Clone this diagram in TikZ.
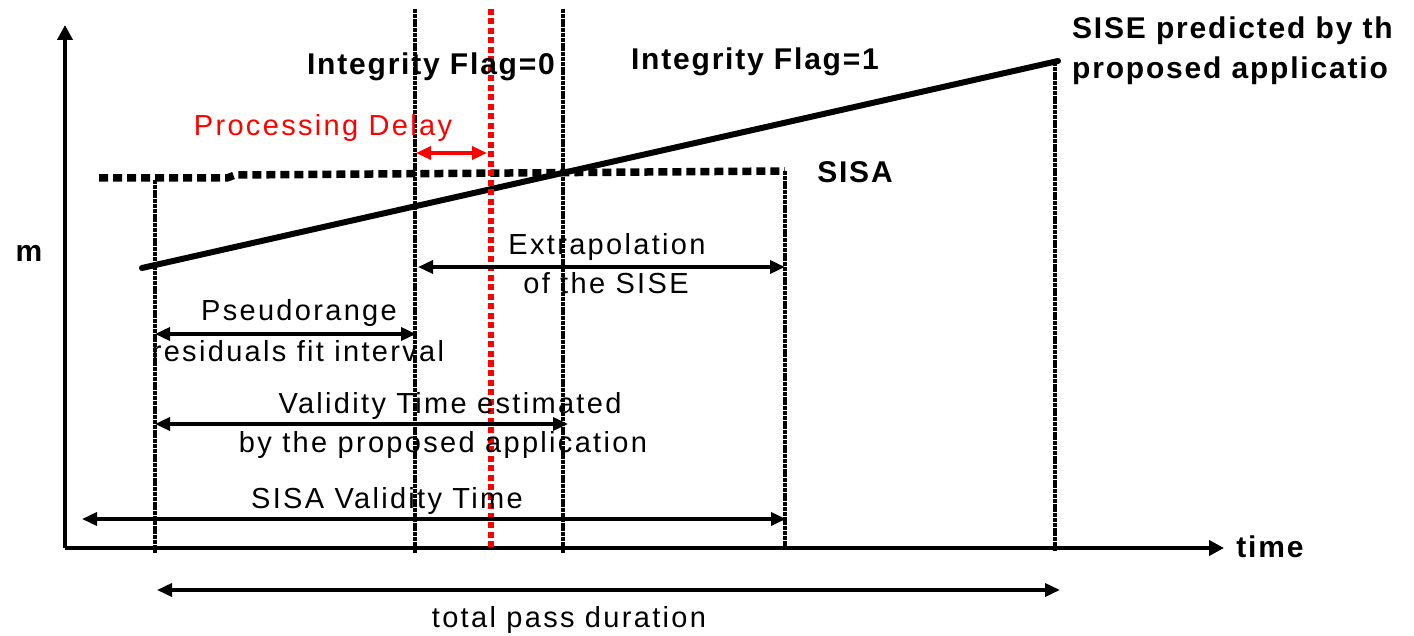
\documentclass[tikz,border=0pt]{standalone}
\usepackage{fontspec}
\setmainfont{Liberation Sans}[LetterSpace=8]
\newfontfamily\boldlab{Liberation Sans Bold}[LetterSpace=6]
\usetikzlibrary{arrows.meta}
\begin{document}
\begin{tikzpicture}[x=1pt,y=-1pt,
  lab/.style={font=\fontsize{29}{33}\selectfont, inner sep=0pt, anchor=base},
  blab/.style={font=\boldlab\fontsize{30}{34}\selectfont, inner sep=0pt, anchor=base},
  axis/.style={line width=4pt, -{Triangle[length=15pt,width=15pt]}},
  span/.style={line width=3.5pt, {Triangle[length=15pt,width=13pt]}-{Triangle[length=15pt,width=13pt]}},
  vline/.style={line width=3.2pt, dash pattern=on 4pt off 0.8pt},
  redline/.style={line width=6pt, red, dash pattern=on 6pt off 3.5pt},
  sisa/.style={line width=7.5pt, dash pattern=on 9pt off 5pt},
  sise/.style={line width=6pt, line cap=round}]
\useasboundingbox (0,0) rectangle (1414,636);
\fill[white] (0,0) rectangle (1414,636);

% axes
\coordinate (O) at (65,548);
\coordinate (ytip) at (65,25);
\coordinate (xtip) at (1224,548);
\draw[axis] (O) -- (ytip);
\draw[axis] (O) -- (xtip);
\node[blab] (m) at (29,262) {m};
\node[blab] (time) at (1270,557) {time};

% vertical lines
\coordinate (v1t) at (155,180); \coordinate (v1b) at (155,553);
\coordinate (v2t) at (415,9);   \coordinate (v2b) at (415,553);
\coordinate (v3t) at (563,9);   \coordinate (v3b) at (563,553);
\coordinate (v4t) at (785,171); \coordinate (v4b) at (785,547);
\coordinate (v5t) at (1055,62); \coordinate (v5b) at (1055,551);
\draw[vline] (v1t) -- (v1b);
\draw[vline] (v2t) -- (v2b);
\draw[vline] (v3t) -- (v3b);
\draw[vline] (v4t) -- (v4b);
\draw[vline] (v5t) -- (v5b);

% SISA dashed line
\coordinate (s0) at (99,178);
\coordinate (s1) at (227,178);
\coordinate (s2) at (235,175);
\coordinate (s3) at (785,171);
\draw[sisa] (s0) -- (s1) -- (s2) -- (s3);
\node[blab] (sisalab) at (855,183) {SISA};

% SISE line
\coordinate (e0) at (142,268);
\coordinate (e1) at (1058,61);
\draw[sise] (e0) -- (e1);

% red processing line
\coordinate (rt) at (491,9);
\coordinate (rb) at (491,548);
\draw[redline] (rt) -- (rb);

% labels top
\node[blab] (flag0) at (431,75) {Integrity Flag=0};
\node[blab] (flag1) at (755,70) {Integrity Flag=1};
\begin{scope}
\clip (0,0) rectangle (1390,636);
\node[blab, anchor=base west] (sisepred1) at (1072,39) {SISE predicted by the};
\node[blab, anchor=base west] (sisepred2) at (1072,79) {proposed application};
\end{scope}

% processing delay
\node[lab, text=red] (pdlab) at (323,136) {Processing Delay};
\coordinate (pd0) at (416,153);
\coordinate (pd1) at (487,153);
\draw[span, red] (pd0) -- (pd1);

% extrapolation
\coordinate (ex0) at (418,267);
\coordinate (ex1) at (785,267);
\draw[span] (ex0) -- (ex1);
\node[lab] (ex1lab) at (607,255) {Extrapolation};
\node[lab] (ex2lab) at (606,294) {of the SISE};

% pseudorange
\coordinate (ps0) at (155,334);
\coordinate (ps1) at (416,334);
\draw[span] (ps0) -- (ps1);
\node[lab] (ps1lab) at (299,321) {Pseudorange};
\node[lab] (ps2lab) at (298,361) {residuals fit interval};

% validity time
\coordinate (va0) at (155,424);
\coordinate (va1) at (568,424);
\draw[span] (va0) -- (va1);
\node[lab] (va1lab) at (450,413) {Validity Time estimated};
\node[lab] (va2lab) at (443,452) {by the proposed application};

% SISA validity
\coordinate (sv0) at (82,519);
\coordinate (sv1) at (786,519);
\draw[span] (sv0) -- (sv1);
\node[lab] (svlab) at (387,508) {SISA Validity Time};

% total pass
\coordinate (tp0) at (157,590);
\coordinate (tp1) at (1060,590);
\draw[span] (tp0) -- (tp1);
\node[lab] (tplab) at (569,627) {total pass duration};
\end{tikzpicture}
\end{document}
